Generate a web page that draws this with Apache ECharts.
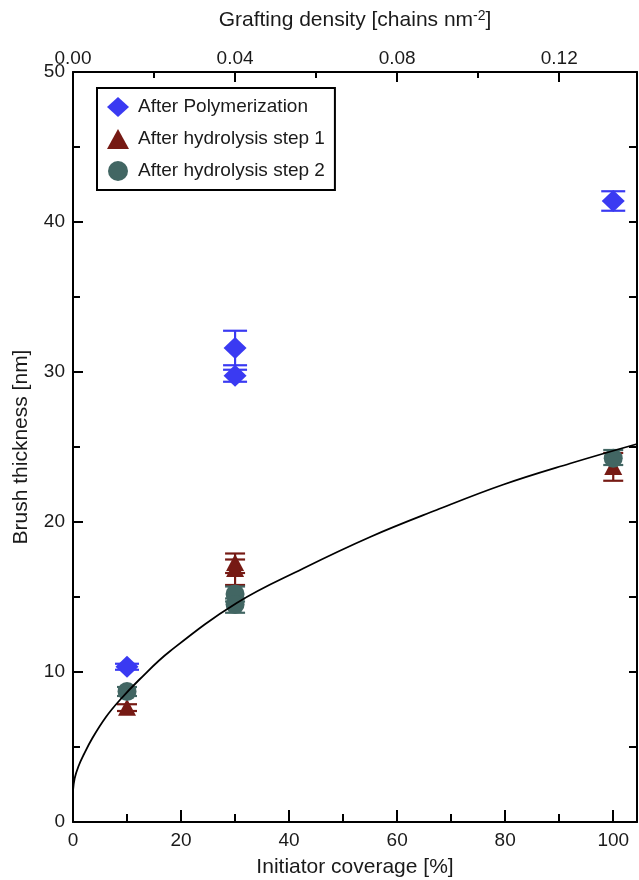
<!DOCTYPE html>
<html>
<head>
<meta charset="utf-8">
<script src="https://cdn.jsdelivr.net/npm/echarts@6/dist/echarts.min.js"></script>
<style>
html,body{margin:0;padding:0;background:#fff;}
#chart{width:639px;height:880px;}
</style>
</head>
<body>
<div id="chart"></div>
<script>
// ---- data ----
const seriesNames = ['After Polymerization', 'After hydrolysis step 1', 'After hydrolysis step 2'];

const polyX = [10, 30, 30, 100];
const polyY = [10.35, 31.6, 29.75, 41.4];
const polyLo = [10.15, 30.45, 29.35, 40.75];
const polyHi = [10.55, 32.75, 30.15, 42.05];

const step1X = [10, 30, 30, 100];
const step1Y = [7.65, 17.3, 16.9, 23.7];
const step1Lo = [7.4, 16.6, 15.8, 22.75];
const step1Hi = [7.85, 17.9, 17.5, 24.6];

const step2X = [10, 30, 30, 100];
const step2Y = [8.7, 15.2, 14.5, 24.25];
const step2Lo = [8.4, 14.7, 13.95, 23.8];
const step2Hi = [9.0, 15.7, 14.9, 24.8];

const fitX = [0, 0.3, 1, 2, 3.6, 6.1, 8.6, 12.3, 18, 30.3, 42.6, 55, 67.3, 79.7, 92, 104.4];
const fitY = [2.1, 2.9, 3.7, 4.5, 5.6, 7.0, 8.1, 9.5, 11.4, 14.6, 16.9, 19.0, 20.8, 22.5, 23.9, 25.2];

const xTicks = [0, 20, 40, 60, 80, 100];
const topTicks = [0.00, 0.04, 0.08, 0.12];
const yTicks = [0, 10, 20, 30, 40, 50];

const colors = ['#3a3af2', '#761a14', '#426663'];
const FONT = 'Liberation Sans, Arial, Helvetica, sans-serif';
const TXT = '#1a1a1a';

function zip(xs, ys) { return xs.map((x, i) => [x, ys[i]]); }
function errData(xs, lo, hi) { return xs.map((x, i) => [x, lo[i], hi[i]]); }

function errRender(color, hw) {
  return function (params, api) {
    const x = api.value(0), lo = api.value(1), hi = api.value(2);
    const p1 = api.coord([x, lo]), p2 = api.coord([x, hi]);
    const st = { stroke: color, lineWidth: 2.2 };
    return {
      type: 'group',
      children: [
        { type: 'line', shape: { x1: p1[0], y1: p1[1], x2: p2[0], y2: p2[1] }, style: st },
        { type: 'line', shape: { x1: p1[0] - hw, y1: p1[1], x2: p1[0] + hw, y2: p1[1] }, style: st },
        { type: 'line', shape: { x1: p2[0] - hw, y1: p2[1], x2: p2[0] + hw, y2: p2[1] }, style: st }
      ]
    };
  };
}

const chart = echarts.init(document.getElementById('chart'), null, { renderer: 'canvas' });

const axisLineStyle = { color: '#000', width: 2 };

const option = {
  backgroundColor: '#fff',
  animation: false,
  textStyle: { fontFamily: FONT },
  grid: { left: 73, right: 2, top: 72, bottom: 58, containLabel: false, outerBoundsMode: 'none' },
  legend: {
    data: seriesNames.map((n, i) => ({ name: n, icon: ['diamond', 'triangle', 'circle'][i] })),
    orient: 'vertical',
    left: 97,
    top: 88,
    padding: [9, 10, 9, 10],
    itemWidth: 22,
    itemHeight: 20,
    itemGap: 12,
    borderColor: '#000',
    borderWidth: 2,
    borderRadius: 0,
    backgroundColor: '#fff',
    textStyle: { fontFamily: FONT, fontSize: 19, color: TXT, padding: [0, 0, 0, 4] }
  },
  xAxis: [
    {
      type: 'value',
      position: 'bottom',
      min: 0,
      max: 104.4,
      interval: 20,
      name: 'Initiator coverage [%]',
      nameLocation: 'middle',
      nameGap: 35,
      nameTextStyle: { fontFamily: FONT, fontSize: 21, color: TXT, verticalAlign: 'top' },
      axisLine: { show: true, onZero: false, lineStyle: axisLineStyle },
      axisTick: { show: true, inside: true, length: 12, lineStyle: { color: '#000', width: 2 } },
      minorTick: { show: true, splitNumber: 2, length: 8, lineStyle: { color: '#000', width: 2 } },
      splitLine: { show: false },
      axisLabel: {
        fontFamily: FONT, fontSize: 19, color: TXT, margin: 9,
        formatter: v => xTicks.some(t => Math.abs(t - v) < 1e-6) ? String(Math.round(v)) : ''
      }
    },
    {
      type: 'value',
      position: 'top',
      min: 0,
      max: 0.1392,
      interval: 0.04,
      name: 'Grafting density [chains nm{sup|-2}]',
      nameLocation: 'middle',
      nameGap: 40,
      nameTextStyle: {
        fontFamily: FONT, fontSize: 21, color: TXT,
        rich: { sup: { fontFamily: FONT, fontSize: 14, color: TXT, verticalAlign: 'top', padding: [0, 0, 9, 0] } }
      },
      axisLine: { show: true, onZero: false, lineStyle: axisLineStyle },
      axisTick: { show: true, inside: true, length: 10, lineStyle: { color: '#000', width: 2 } },
      minorTick: { show: true, splitNumber: 2, length: 6, lineStyle: { color: '#000', width: 2 } },
      splitLine: { show: false },
      axisLabel: {
        fontFamily: FONT, fontSize: 19, color: TXT, margin: 4,
        formatter: v => topTicks.some(t => Math.abs(t - v) < 1e-6) ? v.toFixed(2) : ''
      }
    }
  ],
  yAxis: [
    {
      type: 'value',
      position: 'left',
      min: 0,
      max: 50,
      interval: 10,
      name: 'Brush thickness [nm]',
      nameLocation: 'middle',
      nameGap: 41,
      nameTextStyle: { fontFamily: FONT, fontSize: 21, color: TXT },
      axisLine: { show: true, onZero: false, lineStyle: axisLineStyle },
      axisTick: { show: true, inside: true, length: 10, lineStyle: { color: '#000', width: 2 } },
      minorTick: { show: true, splitNumber: 2, length: 7, lineStyle: { color: '#000', width: 2 } },
      splitLine: { show: false },
      axisLabel: {
        fontFamily: FONT, fontSize: 19, color: TXT, margin: 8,
        formatter: v => yTicks.includes(v) ? String(v) : ''
      }
    },
    {
      type: 'value',
      position: 'right',
      min: 0,
      max: 50,
      interval: 5,
      axisLine: { show: true, onZero: false, lineStyle: axisLineStyle },
      axisTick: { show: true, inside: true, length: 8, lineStyle: { color: '#000', width: 2 } },
      splitLine: { show: false },
      axisLabel: { show: false }
    }
  ],
  series: [
    {
      type: 'custom', name: 'errPoly', xAxisIndex: 0, yAxisIndex: 0,
      renderItem: errRender(colors[0], 12),
      encode: { x: 0, y: [1, 2] },
      data: errData(polyX, polyLo, polyHi), z: 2, silent: true
    },
    {
      name: seriesNames[0], type: 'scatter', xAxisIndex: 0, yAxisIndex: 0,
      symbol: 'diamond', symbolSize: [23, 22],
      itemStyle: { color: colors[0], opacity: 1 },
      data: zip(polyX, polyY), z: 3
    },
    {
      type: 'custom', name: 'errStep1', xAxisIndex: 0, yAxisIndex: 0,
      renderItem: errRender(colors[1], 10),
      encode: { x: 0, y: [1, 2] },
      data: errData(step1X, step1Lo, step1Hi), z: 2, silent: true
    },
    {
      name: seriesNames[1], type: 'scatter', xAxisIndex: 0, yAxisIndex: 0,
      symbol: 'triangle', symbolSize: [18, 17],
      itemStyle: { color: colors[1], opacity: 1 },
      data: zip(step1X, step1Y), z: 3
    },
    {
      type: 'custom', name: 'errStep2', xAxisIndex: 0, yAxisIndex: 0,
      renderItem: errRender(colors[2], 10),
      encode: { x: 0, y: [1, 2] },
      data: errData(step2X, step2Lo, step2Hi), z: 4, silent: true
    },
    {
      name: seriesNames[2], type: 'scatter', xAxisIndex: 0, yAxisIndex: 0,
      symbol: 'circle', symbolSize: 19,
      itemStyle: { color: colors[2], opacity: 1 },
      data: zip(step2X, step2Y), z: 4
    },
    {
      name: 'fit', type: 'line', xAxisIndex: 0, yAxisIndex: 0,
      smooth: 0.4, showSymbol: false, symbol: 'none',
      lineStyle: { color: '#000', width: 1.8 },
      data: zip(fitX, fitY), z: 6, silent: true
    }
  ]
};

chart.setOption(option);
</script>
</body>
</html>
